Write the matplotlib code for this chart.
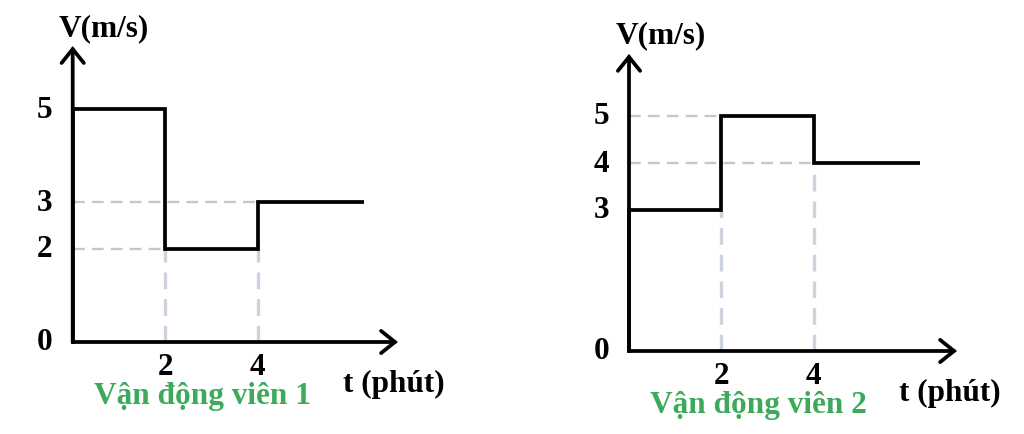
import matplotlib
matplotlib.use("Agg")
import matplotlib.pyplot as plt

# ---- data ----
t_edges = [0, 2, 4, 6.3]
v1 = [5, 2, 3]
v2 = [3, 5, 4]
xticks = [2, 4]
yticks1 = [0, 2, 3, 5]
yticks2 = [0, 3, 4, 5]
titles = ["Vận động viên 1", "Vận động viên 2"]
ylabel = "V(m/s)"
xlabel = "t (phút)"

plt.rcParams['font.family'] = ['Liberation Serif', 'DejaVu Serif']
W, H = 1024, 435
fig = plt.figure(figsize=(W / 100, H / 100), dpi=100)
fig.patch.set_facecolor('white')

DASH_H = '#c0c8d8'
DASH_V = '#ccd2de'
GREEN = '#3caa5a'
FS = 22.5
LW = 2.7


def make_ax(left_px, width_px, ox, oy, sx, sy):
    ax = fig.add_axes([left_px / W, 0, width_px / W, 1])
    ax.set_xlim(-(ox - left_px) / sx, (left_px + width_px - ox) / sx)
    ax.set_ylim(-(H - oy) / sy, oy / sy)
    ax.axis('off')
    return ax


def draw(ax, vals, yticks, title, xtip, ytip, guides):
    # guides
    for (x0, x1, y0, y1) in guides:
        vertical = x0 == x1
        ax.plot([x0, x1], [y0, y1], color=DASH_V if vertical else DASH_H,
                lw=2.4 if vertical else 1.7, ls=(0, (5, 3)), zorder=1)
    # axes arrows
    ap = dict(arrowstyle='->,head_length=0.5,head_width=0.4', lw=LW,
              color='black', shrinkA=0, shrinkB=0, mutation_scale=20,
              joinstyle='miter')
    ax.annotate('', xy=(xtip, 0), xytext=(0, 0), arrowprops=ap, zorder=3)
    ax.annotate('', xy=(0, ytip), xytext=(0, 0), arrowprops=ap, zorder=3)
    # step curve
    ax.stairs(vals, t_edges, baseline=None, color='black', lw=LW, zorder=4)
    ax.plot([0, 0], [0, vals[0]], color='black', lw=LW, zorder=4)
    # tick labels
    for y in yticks:
        ax.text(-0.6, y, str(y), ha='center', va='center', fontsize=FS,
                fontweight='bold')
    for x in xticks:
        ax.text(x, -0.52, str(x), ha='center', va='center', fontsize=FS,
                fontweight='bold')
    ax.text(0.68, 6.74, ylabel, ha='center', va='center', fontsize=FS,
            fontweight='bold')
    ax.text(5.85, -0.88, xlabel, ha='left', va='center', fontsize=FS,
            fontweight='bold')
    ax.text(2.8, -1.14, title, ha='center', va='center', fontsize=FS,
            fontweight='bold', color=GREEN)


ax1 = make_ax(0, 512, 72.7, 343, 46.2, 46.6)
draw(ax1, v1, yticks1, titles[0], 7.04, 6.35,
     [(0, 4, 3, 3), (0, 2, 2, 2), (2, 2, 0, 2), (4, 4, 0, 2)])

ax2 = make_ax(512, 512, 629, 352, 46.2, 47)
draw(ax2, v2, yticks2, titles[1], 7.1, 6.32,
     [(0, 2, 5, 5), (0, 4, 4, 4), (2, 2, 0, 3), (4, 4, 0, 4)])

fig.savefig('out.png', dpi=100, facecolor='white')
